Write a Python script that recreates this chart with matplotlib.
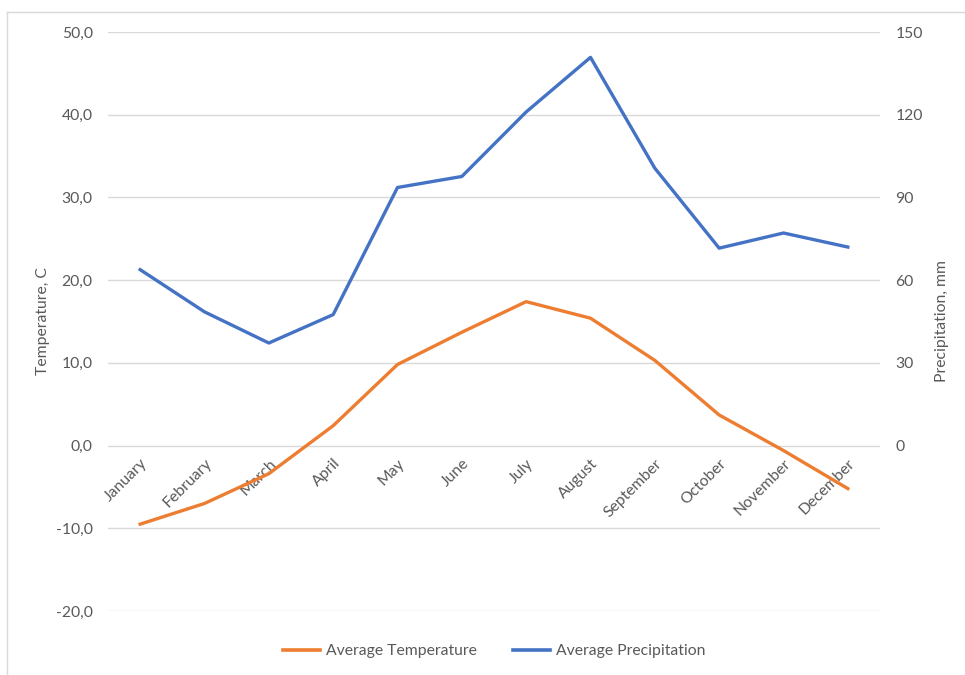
import matplotlib
matplotlib.use("Agg")
import matplotlib.pyplot as plt
from matplotlib.lines import Line2D
from matplotlib.ticker import FuncFormatter, FixedLocator


MONTHS = [
    "January", "February", "March", "April", "May", "June",
    "July", "August", "September", "October", "November", "December",
]
TEMPERATURE = [-9.5, -7.0, -3.4, 2.4, 9.8, 13.7, 17.4, 15.4, 10.3, 3.7, -0.6, -5.2]
PRECIPITATION = [63.8, 48.5, 37.2, 47.5, 93.6, 97.6, 121.0, 140.8, 100.6, 71.6, 77.1, 72.0]
TEMP_TICKS = [-20, -10, 0, 10, 20, 30, 40, 50]
PRECIP_TICKS = [0, 30, 60, 90, 120, 150]

ORANGE = "#ED7D31"
BLUE = "#4472C4"
GRID = "#D9D9D9"
TEXT = "#595959"

plt.rcParams.update({"font.family": ["Lato", "DejaVu Sans"]})

fig = plt.figure(figsize=(9.65, 6.75), dpi=100)
ax = fig.add_axes([108 / 965, 1 - 611 / 675, (880 - 108) / 965, (611 - 32) / 675])
ax2 = ax.twinx()

x = list(range(len(MONTHS)))
ax.plot(x, TEMPERATURE, color=ORANGE, lw=2.4, solid_joinstyle="round", zorder=3)
ax2.plot(x, PRECIPITATION, color=BLUE, lw=2.4, solid_joinstyle="round", zorder=3)

ax.set_xlim(-0.5, len(MONTHS) - 0.5)
ax.set_ylim(-20, 50)
ax2.set_ylim(-60, 150)

ax.yaxis.set_major_locator(FixedLocator(TEMP_TICKS))
ax.yaxis.set_major_formatter(FuncFormatter(lambda v, _: f"{v:.1f}".replace(".", ",")))
ax2.yaxis.set_major_locator(FixedLocator(PRECIP_TICKS))
ax.grid(axis="y", color=GRID, lw=1.0, zorder=0)
ax.set_xticks([])

for a in (ax, ax2):
    for spine in a.spines.values():
        spine.set_visible(False)
    a.tick_params(axis="y", length=0, labelsize=11.3, labelcolor=TEXT)
ax.tick_params(axis="y", pad=11)
ax2.tick_params(axis="y", pad=11)

# month labels sit at the zero line, as in the spreadsheet chart
for i, month in enumerate(MONTHS):
    ax.text(i + 0.08, -1.9, month, rotation=45, rotation_mode="anchor",
            ha="right", va="center", fontsize=11.3, color=TEXT, zorder=2)

ax.set_ylabel("Temperature, C", fontsize=11.3, color=TEXT, labelpad=4)
ax2.set_ylabel("Precipitation, mm", fontsize=11.3, color=TEXT, labelpad=9)

handles = [
    Line2D([], [], color=ORANGE, lw=2.6),
    Line2D([], [], color=BLUE, lw=2.6),
]
fig.legend(handles, ["Average Temperature", "Average Precipitation"],
           loc="center", bbox_to_anchor=(494 / 965, 1 - 651 / 675), ncol=2,
           frameon=False, fontsize=11.3, labelcolor=TEXT, handlelength=2.4,
           handletextpad=0.35, columnspacing=2.3)

# light chart-area border (left and top edges visible in the screenshot)
fig.add_artist(Line2D([7 / 965, 7 / 965], [0, 1 - 12 / 675], color=GRID, lw=1.0))
fig.add_artist(Line2D([7 / 965, 1], [1 - 12 / 675, 1 - 12 / 675], color=GRID, lw=1.0))

fig.savefig("out.png", dpi=100, facecolor="white")
